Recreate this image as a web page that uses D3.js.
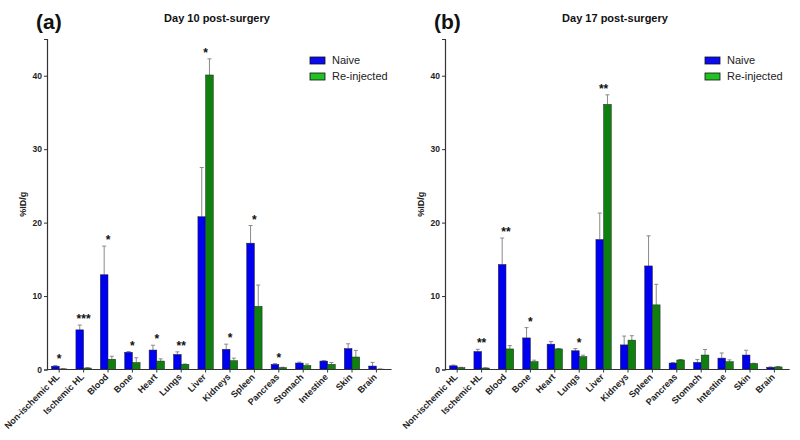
<!DOCTYPE html>
<html><head><meta charset="utf-8">
<script src="https://cdn.jsdelivr.net/npm/d3@7"></script>
<style>body{margin:0;background:#fff}svg{display:block}text{font-family:"Liberation Sans",Arial,sans-serif}</style>
</head><body><svg id="c" width="800" height="440"></svg>
<script>
const categories = ["Non-ischemic HL","Ischemic HL","Blood","Bone","Heart","Lungs","Liver","Kidneys","Spleen","Pancreas","Stomach","Intestine","Skin","Brain"];
const seriesNames = ["Naive","Re-injected"];
const yTicks = [0,10,20,30,40];

const day10Naive    = [0.45, 5.4, 12.9, 2.35, 2.65, 2.05, 20.8, 2.75, 17.2, 0.7, 0.88, 1.15, 2.85, 0.47];
const day10NaiveErr = [0.1, 0.65, 3.9, 0.1, 0.65, 0.35, 6.7, 0.7, 2.4, 0.1, 0.12, 0.05, 0.65, 0.5];
const day10Reinj    = [0.08, 0.2, 1.4, 0.95, 1.15, 0.7, 40.1, 1.2, 8.6, 0.25, 0.55, 0.7, 1.7, 0.05];
const day10ReinjErr = [0.02, 0.05, 0.4, 0.65, 0.3, 0.05, 2.2, 0.35, 2.9, 0.05, 0.2, 0.25, 0.9, 0.02];
const day10Sig      = ["*","***","*","*","*","**","*","*","*","*","","","",""];

const day17Naive    = [0.5, 2.45, 14.3, 4.3, 3.45, 2.55, 17.7, 3.35, 14.1, 0.88, 0.97, 1.55, 1.97, 0.3];
const day17NaiveErr = [0.1, 0.3, 3.6, 1.4, 0.35, 0.3, 3.6, 1.2, 4.1, 0.08, 0.4, 0.7, 0.65, 0.05];
const day17Reinj    = [0.25, 0.2, 2.8, 1.07, 2.8, 1.75, 36.1, 4.0, 8.8, 1.3, 1.97, 1.06, 0.8, 0.35];
const day17ReinjErr = [0.05, 0.03, 0.45, 0.2, 0.05, 0.2, 1.3, 0.6, 2.8, 0.06, 0.75, 0.25, 0.05, 0.05];
const day17Sig      = ["","**","**","*","","*","**","","","","","","",""];

const barColors = ["#0000f0","#0f800f"];
const legendColors = ["#0a0af5","#22c022"];

const svg = d3.select("#c");

function panel(opts){
  const {x0, letter, title, naive, naiveErr, reinj, reinjErr, sig, legendX} = opts;
  const g = svg.append("g");
  const y = d3.scaleLinear().domain([0,45]).range([369.5, 39]);
  const x = d3.scaleBand().domain(categories).range([x0, x0 + 24.4*categories.length]).paddingInner(0.37).paddingOuter(0.185);
  const xs = d3.scaleBand().domain(seriesNames).range([0, x.bandwidth()]);
  const series = [
    {name:"Naive", vals:naive, errs:naiveErr},
    {name:"Re-injected", vals:reinj, errs:reinjErr}
  ];
  series.forEach((s,si)=>{
    categories.forEach((c,i)=>{
      const cx = x(c) + xs(s.name) + xs.bandwidth()/2;
      const yt = y(s.vals[i] + s.errs[i]);
      g.append("line").attr("x1",cx).attr("x2",cx).attr("y1",y(s.vals[i])).attr("y2",yt)
        .attr("stroke","#8a8a8a").attr("stroke-width",1);
      g.append("line").attr("x1",cx-2).attr("x2",cx+2).attr("y1",yt).attr("y2",yt)
        .attr("stroke","#8a8a8a").attr("stroke-width",1);
    });
  });
  series.forEach((s,si)=>{
    g.selectAll(null).data(categories).enter().append("rect")
      .attr("x", c=>x(c)+xs(s.name))
      .attr("y", (c,i)=>y(s.vals[i]))
      .attr("width", xs.bandwidth())
      .attr("height", (c,i)=>y(0)-y(s.vals[i]))
      .attr("fill", barColors[si])
      .attr("stroke","#222").attr("stroke-width",0.5);
  });
  categories.forEach((c,i)=>{
    if(!sig[i]) return;
    const top = Math.max(naive[i]+naiveErr[i], reinj[i]+reinjErr[i]);
    g.append("text").attr("x", x(c)+x.bandwidth()/2).attr("y", y(top)-2)
      .attr("text-anchor","middle").attr("font-size",12).attr("font-weight","bold").attr("fill","#111").text(sig[i]);
  });
  const ya = g.append("g").attr("transform",`translate(${x0},0)`)
    .call(d3.axisLeft(y).tickValues(yTicks).tickSize(3).tickPadding(2));
  ya.select(".domain").attr("stroke","#333").attr("stroke-width",1.2);
  ya.selectAll(".tick line").attr("stroke","#333");
  ya.selectAll("text").attr("font-size",8.5).attr("font-weight","bold").attr("fill","#222")
    .attr("font-family","Liberation Sans, Arial, sans-serif");
  const xa = g.append("g").attr("transform",`translate(0,${y(0)})`)
    .call(d3.axisBottom(x).tickSize(3).tickSizeOuter(0));
  xa.select(".domain").attr("stroke","#333").attr("stroke-width",1.2)
    .attr("d", `M${x0},0H${x0+24.4*categories.length+3}`);
  xa.selectAll(".tick line").attr("stroke","#333");
  xa.selectAll("text").attr("font-size",9).attr("font-weight","bold").attr("fill","#222")
    .attr("font-family","Liberation Sans, Arial, sans-serif")
    .attr("text-anchor","end").attr("dy",0).attr("y",0)
    .attr("transform","translate(1,8) rotate(-45)");
  g.append("text").attr("transform",`translate(${x0-21},${y(22.5)}) rotate(-90)`)
    .attr("text-anchor","middle").attr("font-size",9).attr("font-weight","bold").attr("fill","#222").text("%ID/g");
  g.append("text").attr("x", x0+170).attr("y",22).attr("text-anchor","middle")
    .attr("font-size",11).attr("font-weight","bold").attr("fill","#111").text(title);
  g.append("text").attr("x", x0-11).attr("y",29).attr("font-size",21).attr("font-weight","bold").attr("fill","#111").text(letter);
  seriesNames.forEach((n,i)=>{
    g.append("rect").attr("x",legendX).attr("y",57+i*16).attr("width",15).attr("height",7)
      .attr("fill",legendColors[i]).attr("stroke","#111").attr("stroke-width",0.8);
    g.append("text").attr("x",legendX+22).attr("y",64+i*16).attr("font-size",11).attr("fill","#222").text(n);
  });
}

panel({x0:47, letter:"(a)", title:"Day 10 post-surgery", naive:day10Naive, naiveErr:day10NaiveErr, reinj:day10Reinj, reinjErr:day10ReinjErr, sig:day10Sig, legendX:310});
panel({x0:445, letter:"(b)", title:"Day 17 post-surgery", naive:day17Naive, naiveErr:day17NaiveErr, reinj:day17Reinj, reinjErr:day17ReinjErr, sig:day17Sig, legendX:705});
</script></body></html>
